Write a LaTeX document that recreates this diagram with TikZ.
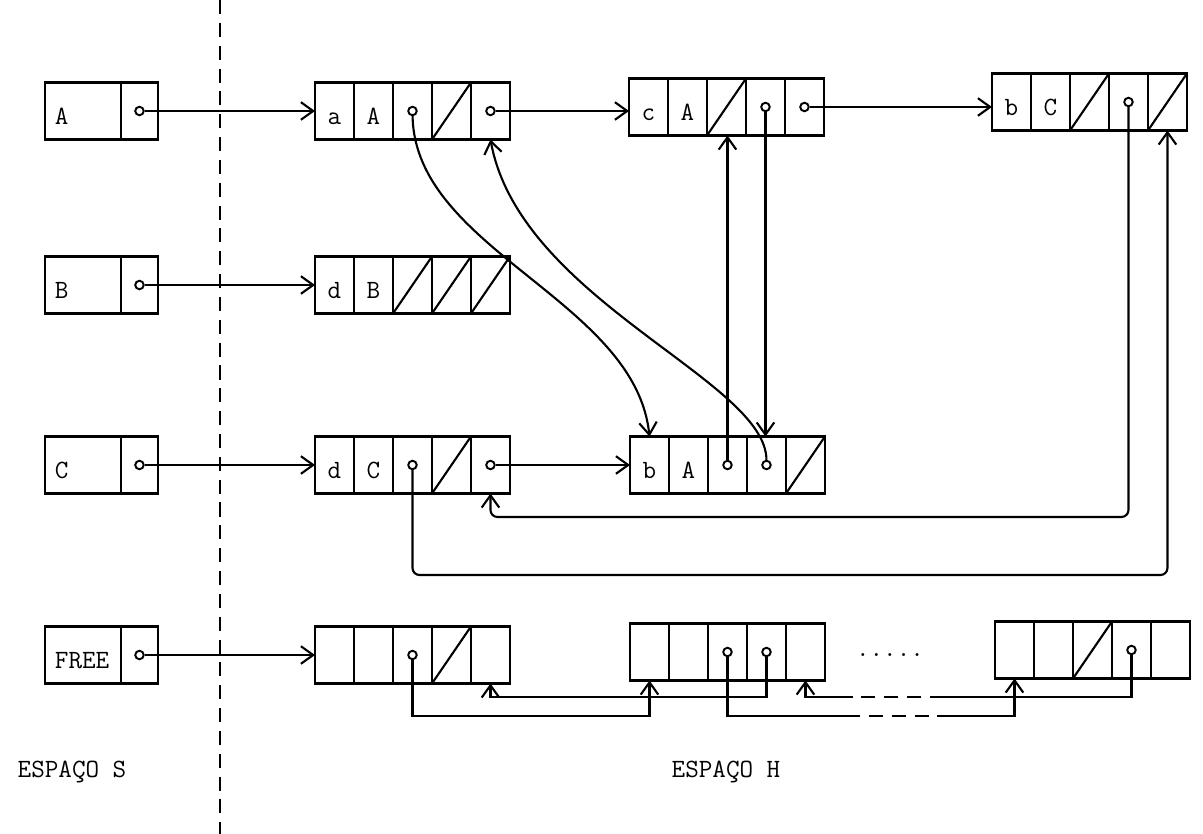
\documentclass[tikz,border=0pt]{standalone}
\usepackage{fontspec}
\usepackage{tikz}
\usetikzlibrary{arrows.meta,positioning}

\tikzset{
  cell/.style={draw,line width=1.4pt,minimum width=0.78cm,minimum height=1.14cm,
    inner sep=0pt,outer sep=0pt,font=\ttfamily\fontsize{15}{18}\selectfont,
    text height=15pt,text depth=0pt},
  slabel/.style={cell,text width=1.12cm,inner xsep=0.2cm,align=left},
  ptr/.style={circle,draw,fill=white,line width=1.1pt,inner sep=0pt,minimum size=0.17cm},
  tag/.style={font=\ttfamily\fontsize{15}{18}\selectfont}
}
% a symbol of space S: name, west point, label
\newcommand{\srec}[3]{%
  \node[slabel,anchor=west] (#1-1) at #2 {#3};
  \node[cell,minimum width=0.74cm,right=0pt of #1-1] (#1-2) {};}
% a five-field cell of space H: name, west point, two labels
\newcommand{\hrec}[4]{%
  \node[cell,anchor=west] (#1-1) at #2 {#3};
  \node[cell,right=0pt of #1-1] (#1-2) {#4};
  \node[cell,right=0pt of #1-2] (#1-3) {};
  \node[cell,right=0pt of #1-3] (#1-4) {};
  \node[cell,right=0pt of #1-4] (#1-5) {};}

\begin{document}
\begin{tikzpicture}[x=0.02cm,y=-0.02cm,line width=1.2pt,>={Straight Barb[length=7pt,width=10pt]}]
  \useasboundingbox (0,0) rectangle (1203,834);
  % border between the two spaces
  \draw[dash pattern=on 8pt off 5pt] (220,0) -- (220,834);
  % space S
  \srec{sA}{(45,111)}{A}
  \srec{sB}{(45,285)}{B}
  \srec{sC}{(45,465)}{C}
  \srec{sF}{(45,655)}{FREE}
  % space H
  \hrec{a}{(315,111)}{a}{A}
  \hrec{c}{(629,107)}{c}{A}
  \hrec{bC}{(992,102)}{b}{C}
  \hrec{dB}{(315,285)}{d}{B}
  \hrec{dC}{(315,465)}{d}{C}
  \hrec{bA}{(630,465)}{b}{A}
  \hrec{fa}{(315,655)}{}{}
  \hrec{fb}{(630,652)}{}{}
  \hrec{fc}{(995,650)}{}{}
  % nil fields and pointer fields
  \foreach \q in {a-4,c-3,bC-3,bC-5,dB-3,dB-4,dB-5,dC-4,bA-5,fa-4,fc-3}
    \draw (\q.south west) -- (\q.north east);
  \foreach \q in {sA-2,sB-2,sC-2,sF-2,a-3,a-5,c-4,c-5,bC-4,dC-3,dC-5,bA-3,bA-4,fa-3,fb-3,fb-4,fc-4}
    \node[ptr] (p\q) at (\q) {};
  % from S into H
  \draw[->] (psA-2) -- (a-1.west);
  \draw[->] (psB-2) -- (dB-1.west);
  \draw[->] (psC-2) -- (dC-1.west);
  \draw[->] (psF-2) -- (fa-1.west);
  % lists
  \draw[->] (pa-5) -- (pa-5 -| c-1.west);
  \draw[->] (pc-5) -- (pc-5 -| bC-1.west);
  \draw[->] (pdC-5) -- (pdC-5 -| bA-1.west);
  \draw[->] (pa-3) .. controls (415,250) and (635,300) .. (bA-1.north);
  \draw[->] (pbA-4) .. controls (766,380) and (520,300) .. (a-5.south);
  \draw[->] (pbA-3) -- (pbA-3 |- c-3.south);
  \draw[->] (pc-4) -- (pc-4 |- bA-4.north);
  \draw[->,rounded corners=4pt] (pbC-4) -- ++(0,415) -| (dC-5.south);
  \draw[->,rounded corners=4pt] (pdC-3) -- ++(0,110) -| (bC-5.south);
  % free list
  \coordinate (d1) at (846,716);
  \coordinate (d2) at (940,716);
  \coordinate (d3) at (846,697);
  \coordinate (d4) at (944,697);
  \draw[->] (pfa-3) -- ++(0,61) -| (fb-1.south);
  \draw[->] (pfb-4) -- ++(0,45) -| (fa-5.south);
  \draw (pfb-3) |- (d1);
  \draw[dash pattern=on 8pt off 5pt] (d1) -- (d2);
  \draw[->] (d2) -| (fc-1.south);
  \draw (pfc-4) |- (d4);
  \draw[dash pattern=on 8pt off 5pt] (d4) -- (d3);
  \draw[->] (d3) -| (fb-5.south);
  \node[tag] (gap) at (890,655) {.....};
  % labels
  \node[tag] (espS) at (72,772) {ESPAÇO S};
  \node[tag] (espH) at (726,772) {ESPAÇO H};
\end{tikzpicture}
\end{document}
